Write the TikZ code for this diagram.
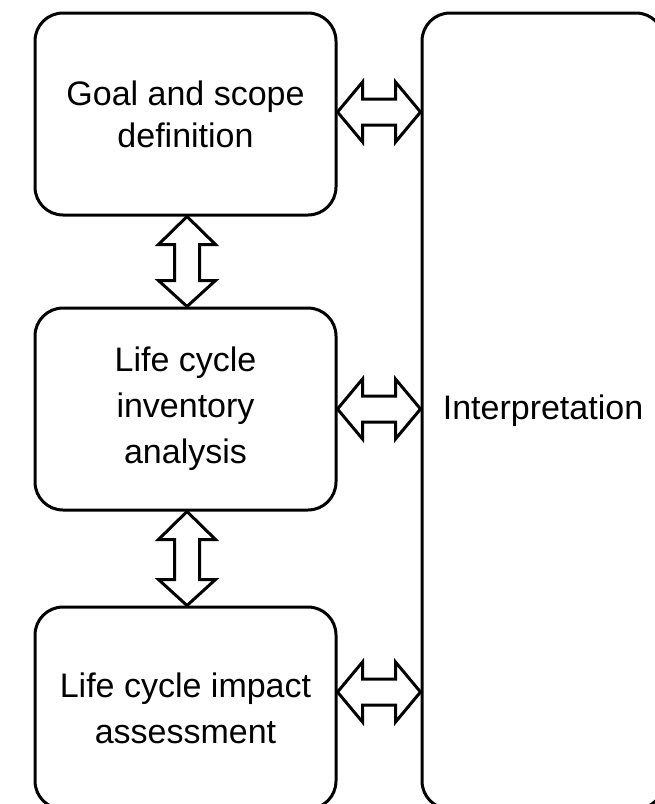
\documentclass[tikz,border=0pt]{standalone}
\usepackage{fontspec}
\setmainfont{Liberation Sans}
\usetikzlibrary{calc}
\tikzset{
  box/.style={draw=black, line width=3pt, rounded corners=28pt, align=center,
    font=\fontsize{34}{46}\selectfont, inner sep=0pt},
  dblarrow/.style={draw=black, line width=3pt, fill=white, line join=miter, miter limit=10},
}
% horizontal double arrow between two points (left tip, right tip)
\newcommand{\hdblarrow}[2]{%
  \draw[dblarrow] (#1) -- ($(#1)+(25,-30)$) -- ($(#1)+(25,-13)$) -- ($(#2)+(-25,-13)$)
    -- ($(#2)+(-25,-30)$) -- (#2) -- ($(#2)+(-25,30)$) -- ($(#2)+(-25,13)$)
    -- ($(#1)+(25,13)$) -- ($(#1)+(25,30)$) -- cycle;}
% vertical double arrow between two points (top tip, bottom tip); y axis points down
\newcommand{\vdblarrow}[2]{%
  \draw[dblarrow] (#1) -- ($(#1)+(28.5,28)$) -- ($(#1)+(12.5,28)$) -- ($(#2)+(12.5,-26)$)
    -- ($(#2)+(28.5,-26)$) -- (#2) -- ($(#2)+(-28.5,-26)$) -- ($(#2)+(-12.5,-26)$)
    -- ($(#1)+(-12.5,28)$) -- ($(#1)+(-28.5,28)$) -- cycle;}
\begin{document}
\begin{tikzpicture}[x=1pt, y=-1pt]
\useasboundingbox (0,0) rectangle (655,804);
\clip (0,0) rectangle (655,804);
\fill[white] (0,0) rectangle (655,804);
\node[box, minimum width=301pt, minimum height=202pt, font=\fontsize{34}{42}\selectfont] (b1) at (185.5,114) {Goal and scope\\definition};
\node[box, minimum width=301pt, minimum height=202pt] (b2) at (185.5,409) {Life cycle\\inventory\\analysis};
\node[box, minimum width=301pt, minimum height=202pt] (b3) at (185.5,708) {Life cycle impact\\assessment};
\node[box, minimum width=242pt, minimum height=796pt] (ip) at (543,411) {Interpretation};
\coordinate (a1l) at ($(b1.east)+(0,-2)$);
\coordinate (a1r) at (ip.west |- a1l);
\coordinate (a2l) at (b2.east);
\coordinate (a2r) at (ip.west |- a2l);
\coordinate (a3l) at ($(b3.east)+(0,-16)$);
\coordinate (a3r) at (ip.west |- a3l);
\coordinate (v1t) at ($(b1.south)+(1.5,0)$);
\coordinate (v1b) at (v1t |- b2.north);
\coordinate (v2t) at ($(b2.south)+(1.5,0)$);
\coordinate (v2b) at (v2t |- b3.north);
\hdblarrow{a1l}{a1r}
\hdblarrow{a2l}{a2r}
\hdblarrow{a3l}{a3r}
\vdblarrow{v1t}{v1b}
\vdblarrow{v2t}{v2b}
\end{tikzpicture}
\end{document}
